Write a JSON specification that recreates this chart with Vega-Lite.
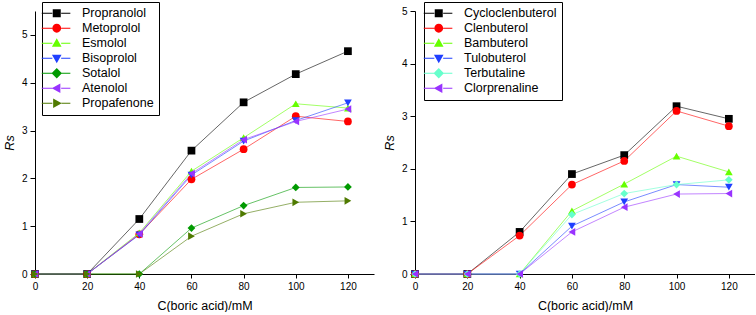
{
"$schema": "https://vega.github.io/schema/vega-lite/v6.json",
"background": "white",
"padding": {"left": 3, "top": 1, "right": 0, "bottom": 0},
"spacing": 9,
"resolve": {"scale": {"color": "independent", "shape": "independent"}, "legend": {"color": "independent", "shape": "independent"}},
"config": {
  "view": {"stroke": null},
  "font": "Liberation Sans",
  "axis": {"grid": false, "domainColor": "#000", "tickColor": "#000", "labelColor": "#000", "titleColor": "#000", "labelFontSize": 10, "titleFontSize": 12.5, "titleFontWeight": "normal", "labelFont": "Liberation Sans", "titleFont": "Liberation Sans", "domainWidth": 1, "tickWidth": 1},
  "legend": {"labelFont": "Liberation Sans", "labelFontSize": 12.5, "labelColor": "#000", "symbolOpacity": 1, "symbolStrokeWidth": 0}
},
"datasets": {
  "left": [
    {"series": "Propranolol", "x": 0, "y": 0}, {"series": "Propranolol", "x": 20, "y": 0}, {"series": "Propranolol", "x": 40, "y": 1.15}, {"series": "Propranolol", "x": 60, "y": 2.58}, {"series": "Propranolol", "x": 80, "y": 3.59}, {"series": "Propranolol", "x": 100, "y": 4.18}, {"series": "Propranolol", "x": 120, "y": 4.66},
    {"series": "Metoprolol", "x": 0, "y": 0}, {"series": "Metoprolol", "x": 20, "y": 0}, {"series": "Metoprolol", "x": 40, "y": 0.83}, {"series": "Metoprolol", "x": 60, "y": 1.98}, {"series": "Metoprolol", "x": 80, "y": 2.61}, {"series": "Metoprolol", "x": 100, "y": 3.3}, {"series": "Metoprolol", "x": 120, "y": 3.19},
    {"series": "Esmolol", "x": 0, "y": 0}, {"series": "Esmolol", "x": 20, "y": 0}, {"series": "Esmolol", "x": 40, "y": 0.86}, {"series": "Esmolol", "x": 60, "y": 2.15}, {"series": "Esmolol", "x": 80, "y": 2.85}, {"series": "Esmolol", "x": 100, "y": 3.56}, {"series": "Esmolol", "x": 120, "y": 3.47},
    {"series": "Bisoprolol", "x": 0, "y": 0}, {"series": "Bisoprolol", "x": 20, "y": 0}, {"series": "Bisoprolol", "x": 40, "y": 0.82}, {"series": "Bisoprolol", "x": 60, "y": 2.07}, {"series": "Bisoprolol", "x": 80, "y": 2.78}, {"series": "Bisoprolol", "x": 100, "y": 3.21}, {"series": "Bisoprolol", "x": 120, "y": 3.58},
    {"series": "Sotalol", "x": 0, "y": 0}, {"series": "Sotalol", "x": 20, "y": 0}, {"series": "Sotalol", "x": 40, "y": 0}, {"series": "Sotalol", "x": 60, "y": 0.96}, {"series": "Sotalol", "x": 80, "y": 1.43}, {"series": "Sotalol", "x": 100, "y": 1.81}, {"series": "Sotalol", "x": 120, "y": 1.82},
    {"series": "Atenolol", "x": 0, "y": 0}, {"series": "Atenolol", "x": 20, "y": 0}, {"series": "Atenolol", "x": 40, "y": 0.84}, {"series": "Atenolol", "x": 60, "y": 2.1}, {"series": "Atenolol", "x": 80, "y": 2.81}, {"series": "Atenolol", "x": 100, "y": 3.19}, {"series": "Atenolol", "x": 120, "y": 3.45},
    {"series": "Propafenone", "x": 0, "y": 0}, {"series": "Propafenone", "x": 20, "y": 0}, {"series": "Propafenone", "x": 40, "y": 0}, {"series": "Propafenone", "x": 60, "y": 0.79}, {"series": "Propafenone", "x": 80, "y": 1.26}, {"series": "Propafenone", "x": 100, "y": 1.5}, {"series": "Propafenone", "x": 120, "y": 1.53}
  ],
  "right": [
    {"series": "Cycloclenbuterol", "x": 0, "y": 0}, {"series": "Cycloclenbuterol", "x": 20, "y": 0}, {"series": "Cycloclenbuterol", "x": 40, "y": 0.8}, {"series": "Cycloclenbuterol", "x": 60, "y": 1.9}, {"series": "Cycloclenbuterol", "x": 80, "y": 2.26}, {"series": "Cycloclenbuterol", "x": 100, "y": 3.19}, {"series": "Cycloclenbuterol", "x": 120, "y": 2.95},
    {"series": "Clenbuterol", "x": 0, "y": 0}, {"series": "Clenbuterol", "x": 20, "y": 0}, {"series": "Clenbuterol", "x": 40, "y": 0.73}, {"series": "Clenbuterol", "x": 60, "y": 1.7}, {"series": "Clenbuterol", "x": 80, "y": 2.15}, {"series": "Clenbuterol", "x": 100, "y": 3.1}, {"series": "Clenbuterol", "x": 120, "y": 2.81},
    {"series": "Bambuterol", "x": 0, "y": 0}, {"series": "Bambuterol", "x": 20, "y": 0}, {"series": "Bambuterol", "x": 40, "y": 0}, {"series": "Bambuterol", "x": 60, "y": 1.2}, {"series": "Bambuterol", "x": 80, "y": 1.71}, {"series": "Bambuterol", "x": 100, "y": 2.24}, {"series": "Bambuterol", "x": 120, "y": 1.94},
    {"series": "Tulobuterol", "x": 0, "y": 0}, {"series": "Tulobuterol", "x": 20, "y": 0}, {"series": "Tulobuterol", "x": 40, "y": 0}, {"series": "Tulobuterol", "x": 60, "y": 0.91}, {"series": "Tulobuterol", "x": 80, "y": 1.37}, {"series": "Tulobuterol", "x": 100, "y": 1.7}, {"series": "Tulobuterol", "x": 120, "y": 1.65},
    {"series": "Terbutaline", "x": 0, "y": 0}, {"series": "Terbutaline", "x": 20, "y": 0}, {"series": "Terbutaline", "x": 40, "y": 0}, {"series": "Terbutaline", "x": 60, "y": 1.13}, {"series": "Terbutaline", "x": 80, "y": 1.53}, {"series": "Terbutaline", "x": 100, "y": 1.7}, {"series": "Terbutaline", "x": 120, "y": 1.79},
    {"series": "Clorprenaline", "x": 0, "y": 0}, {"series": "Clorprenaline", "x": 20, "y": 0}, {"series": "Clorprenaline", "x": 40, "y": 0}, {"series": "Clorprenaline", "x": 60, "y": 0.8}, {"series": "Clorprenaline", "x": 80, "y": 1.27}, {"series": "Clorprenaline", "x": 100, "y": 1.52}, {"series": "Clorprenaline", "x": 120, "y": 1.53}
  ]
},
"hconcat": [
  {
    "width": 339, "height": 263,
    "data": {"name": "left"},
    "resolve": {"scale": {"color": "independent", "shape": "independent"}, "legend": {"color": "independent", "shape": "independent"}},
    "layer": [
      {
        "mark": {"type": "line", "strokeWidth": 1, "opacity": 0.6},
        "encoding": {
          "x": {"field": "x", "type": "quantitative", "scale": {"domain": [0, 130], "nice": false}, "axis": {"values": [0, 10, 20, 30, 40, 50, 60, 70, 80, 90, 100, 110, 120, 130], "labelExpr": "datum.value % 20 ? '' : datum.label", "title": "C(boric acid)/mM", "tickSize": 4, "labelPadding": 3, "titlePadding": 8, "labelFlush": false,
            "encode": {"ticks": {"y2": {"value": {"expr": "datum.value % 20 ? 2.5 : 4"}}}}}},
          "y": {"field": "y", "type": "quantitative", "scale": {"domain": [0, 5.5], "nice": false}, "axis": {"values": [0, 0.5, 1, 1.5, 2, 2.5, 3, 3.5, 4, 4.5, 5, 5.5], "labelExpr": "datum.value % 1 ? '' : datum.label", "title": "Rs", "titleFontStyle": "italic", "tickSize": 5, "labelPadding": 3, "titlePadding": 5,
            "encode": {"ticks": {"x2": {"value": {"expr": "datum.value % 1 ? -3 : -5"}}}}}},
          "color": {"field": "series", "type": "nominal", "scale": {"domain": ["Propranolol", "Metoprolol", "Esmolol", "Bisoprolol", "Sotalol", "Atenolol", "Propafenone"], "range": ["#000000", "#ff0000", "#66ff00", "#1f3fff", "#009a00", "#9933ff", "#4f7a00"]}, "legend": null}
        }
      },
      {
        "mark": {"type": "point", "filled": true, "size": 60, "opacity": 1},
        "encoding": {
          "x": {"field": "x", "type": "quantitative"},
          "y": {"field": "y", "type": "quantitative"},
          "color": {"field": "series", "type": "nominal", "scale": {"domain": ["Propranolol", "Metoprolol", "Esmolol", "Bisoprolol", "Sotalol", "Atenolol", "Propafenone"], "range": ["#000000", "#ff0000", "#66ff00", "#1f3fff", "#009a00", "#9933ff", "#4f7a00"]}, "legend": null},
          "shape": {"field": "series", "type": "nominal", "scale": {"domain": ["Propranolol", "Metoprolol", "Esmolol", "Bisoprolol", "Sotalol", "Atenolol", "Propafenone"], "range": ["square", "circle", "triangle-up", "triangle-down", "diamond", "triangle-left", "triangle-right"]}, "legend": null}
        }
      },
      {
        "mark": {"type": "point", "filled": true, "size": 0, "opacity": 1, "strokeWidth": 0},
        "encoding": {
          "x": {"field": "x", "type": "quantitative"},
          "y": {"field": "y", "type": "quantitative"},
          "color": {"field": "series", "type": "nominal", "scale": {"domain": ["Propranolol", "Metoprolol", "Esmolol", "Bisoprolol", "Sotalol", "Atenolol", "Propafenone"], "range": ["#000000", "#ff0000", "#66ff00", "#1f3fff", "#009a00", "#9933ff", "#4f7a00"]},
            "legend": {"orient": "none", "legendX": 7, "legendY": -9, "title": null, "strokeColor": "#000", "fillColor": "#fff", "padding": 5, "symbolSize": 64, "symbolOffset": 3.5, "labelOffset": 19, "rowPadding": 2}},
          "shape": {"field": "series", "type": "nominal", "scale": {"domain": ["Propranolol", "Metoprolol", "Esmolol", "Bisoprolol", "Sotalol", "Atenolol", "Propafenone"], "range": [
              "M-3.75,-0.13H-1.1V0.13H-3.75ZM1.1,-0.13H3.4V0.13H1.1ZM-1,-1H1V1H-1Z",
              "M-3.75,-0.13H-1.1V0.13H-3.75ZM1.1,-0.13H3.4V0.13H1.1ZM-1.1,0A1.1,1.1,0,1,0,1.1,0A1.1,1.1,0,1,0,-1.1,0Z",
              "M-3.75,-0.13H-1.1V0.13H-3.75ZM1.1,-0.13H3.4V0.13H1.1ZM0,-1.25L1.2,0.9L-1.2,0.9Z",
              "M-3.75,-0.13H-1.1V0.13H-3.75ZM1.1,-0.13H3.4V0.13H1.1ZM0,1.25L1.2,-0.9L-1.2,-0.9Z",
              "M-3.75,-0.13H-1.1V0.13H-3.75ZM1.1,-0.13H3.4V0.13H1.1ZM0,-1.3L1.3,0L0,1.3L-1.3,0Z",
              "M-3.75,-0.13H-1.1V0.13H-3.75ZM1.1,-0.13H3.4V0.13H1.1ZM-1.25,0L0.9,-1.2L0.9,1.2Z",
              "M-3.75,-0.13H-1.1V0.13H-3.75ZM1.1,-0.13H3.4V0.13H1.1ZM1.25,0L-0.9,-1.2L-0.9,1.2Z"]},
            "legend": {"orient": "none", "legendX": 7, "legendY": -9, "title": null, "strokeColor": "#000", "fillColor": "#fff", "padding": 5, "symbolSize": 64, "symbolOffset": 3.5, "labelOffset": 19, "rowPadding": 2}}
        }
      }
    ]
  },
  {
    "width": 340, "height": 263,
    "data": {"name": "right"},
    "resolve": {"scale": {"color": "independent", "shape": "independent"}, "legend": {"color": "independent", "shape": "independent"}},
    "layer": [
      {
        "mark": {"type": "line", "strokeWidth": 1, "opacity": 0.6},
        "encoding": {
          "x": {"field": "x", "type": "quantitative", "scale": {"domain": [0, 130], "nice": false}, "axis": {"values": [0, 10, 20, 30, 40, 50, 60, 70, 80, 90, 100, 110, 120, 130], "labelExpr": "datum.value % 20 ? '' : datum.label", "title": "C(boric acid)/mM", "tickSize": 4, "labelPadding": 3, "titlePadding": 8, "labelFlush": false,
            "encode": {"ticks": {"y2": {"value": {"expr": "datum.value % 20 ? 2.5 : 4"}}}}}},
          "y": {"field": "y", "type": "quantitative", "scale": {"domain": [0, 5], "nice": false}, "axis": {"values": [0, 0.5, 1, 1.5, 2, 2.5, 3, 3.5, 4, 4.5, 5], "labelExpr": "datum.value % 1 ? '' : datum.label", "title": "Rs", "titleFontStyle": "italic", "tickSize": 5, "labelPadding": 3, "titlePadding": 5,
            "encode": {"ticks": {"x2": {"value": {"expr": "datum.value % 1 ? -3 : -5"}}}}}},
          "color": {"field": "series", "type": "nominal", "scale": {"domain": ["Cycloclenbuterol", "Clenbuterol", "Bambuterol", "Tulobuterol", "Terbutaline", "Clorprenaline"], "range": ["#000000", "#ff0000", "#66ff00", "#1f3fff", "#66ffcc", "#9933ff"]}, "legend": null}
        }
      },
      {
        "mark": {"type": "point", "filled": true, "size": 60, "opacity": 1},
        "encoding": {
          "x": {"field": "x", "type": "quantitative"},
          "y": {"field": "y", "type": "quantitative"},
          "color": {"field": "series", "type": "nominal", "scale": {"domain": ["Cycloclenbuterol", "Clenbuterol", "Bambuterol", "Tulobuterol", "Terbutaline", "Clorprenaline"], "range": ["#000000", "#ff0000", "#66ff00", "#1f3fff", "#66ffcc", "#9933ff"]}, "legend": null},
          "shape": {"field": "series", "type": "nominal", "scale": {"domain": ["Cycloclenbuterol", "Clenbuterol", "Bambuterol", "Tulobuterol", "Terbutaline", "Clorprenaline"], "range": ["square", "circle", "triangle-up", "triangle-down", "diamond", "triangle-left"]}, "legend": null}
        }
      },
      {
        "mark": {"type": "point", "filled": true, "size": 0, "opacity": 1, "strokeWidth": 0},
        "encoding": {
          "x": {"field": "x", "type": "quantitative"},
          "y": {"field": "y", "type": "quantitative"},
          "color": {"field": "series", "type": "nominal", "scale": {"domain": ["Cycloclenbuterol", "Clenbuterol", "Bambuterol", "Tulobuterol", "Terbutaline", "Clorprenaline"], "range": ["#000000", "#ff0000", "#66ff00", "#1f3fff", "#66ffcc", "#9933ff"]},
            "legend": {"orient": "none", "legendX": 9, "legendY": -9, "title": null, "strokeColor": "#000", "fillColor": "#fff", "padding": 5, "symbolSize": 64, "symbolOffset": 3.5, "labelOffset": 19, "rowPadding": 2}},
          "shape": {"field": "series", "type": "nominal", "scale": {"domain": ["Cycloclenbuterol", "Clenbuterol", "Bambuterol", "Tulobuterol", "Terbutaline", "Clorprenaline"], "range": [
              "M-3.75,-0.13H-1.1V0.13H-3.75ZM1.1,-0.13H3.4V0.13H1.1ZM-1,-1H1V1H-1Z",
              "M-3.75,-0.13H-1.1V0.13H-3.75ZM1.1,-0.13H3.4V0.13H1.1ZM-1.1,0A1.1,1.1,0,1,0,1.1,0A1.1,1.1,0,1,0,-1.1,0Z",
              "M-3.75,-0.13H-1.1V0.13H-3.75ZM1.1,-0.13H3.4V0.13H1.1ZM0,-1.25L1.2,0.9L-1.2,0.9Z",
              "M-3.75,-0.13H-1.1V0.13H-3.75ZM1.1,-0.13H3.4V0.13H1.1ZM0,1.25L1.2,-0.9L-1.2,-0.9Z",
              "M-3.75,-0.13H-1.1V0.13H-3.75ZM1.1,-0.13H3.4V0.13H1.1ZM0,-1.3L1.3,0L0,1.3L-1.3,0Z",
              "M-3.75,-0.13H-1.1V0.13H-3.75ZM1.1,-0.13H3.4V0.13H1.1ZM-1.25,0L0.9,-1.2L0.9,1.2Z"]},
            "legend": {"orient": "none", "legendX": 9, "legendY": -9, "title": null, "strokeColor": "#000", "fillColor": "#fff", "padding": 5, "symbolSize": 64, "symbolOffset": 3.5, "labelOffset": 19, "rowPadding": 2}}
        }
      }
    ]
  }
]
}
